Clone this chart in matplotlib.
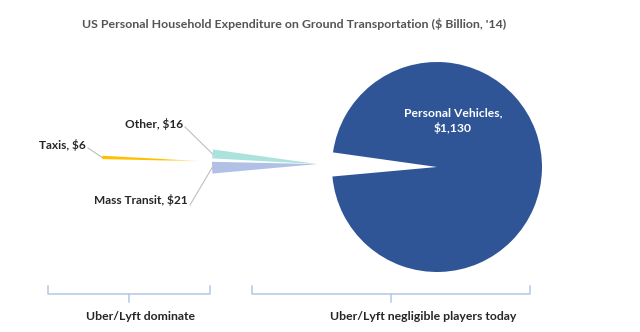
import numpy as np
import matplotlib.pyplot as plt
import matplotlib.colors as mcolors

# Data
labels = ["Personal Vehicles", "Other", "Taxis", "Mass Transit"]
values = [1130, 16, 6, 21]
colors = ["#2F5597", "#ABE3DC", "#FFC000", "#B1C1E6"]
bracket_labels = ["Uber/Lyft dominate", "Uber/Lyft negligible players today"]
title = "US Personal Household Expenditure on Ground Transportation ($ Billion, '14)"

plt.rcParams['font.family'] = ['Lato', 'DejaVu Sans']

W, H = 640, 332
fig = plt.figure(figsize=(6.4, 3.32), dpi=100)
ax = fig.add_axes([0, 0, 1, 1])

def py(y):
    # pixel row -> data y (y axis points up)
    return H - y

total = sum(values)
small = total - values[0]
gap_dir = 178.6
start = gap_dir + small / total * 180
cx, cy, r = 437, py(167), 105

wedges, _ = ax.pie(values, colors=colors, startangle=start, center=(cx, cy),
                   radius=r, wedgeprops=dict(linewidth=0))

# pull the small slices out to the left, all along the gap direction
shift = {1: 120, 2: 230, 3: 120}
u = np.array([np.cos(np.radians(gap_dir)), np.sin(np.radians(gap_dir))])
for i, d in shift.items():
    wedges[i].set_center((cx + d * u[0], cy + d * u[1]))

# taxis slice fades out toward its tip
wt = wedges[2]
wt.set_facecolor("none")
n = 300
xs = np.linspace(0, 1, n)
grad = np.ones((2, n, 4))
grad[..., :3] = mcolors.to_rgb(colors[2])
grad[..., 3] = np.clip((1 - xs) / 0.42, 0, 1)
im = ax.imshow(grad, extent=[wt.center[0] - r - 2, wt.center[0], wt.center[1] - 12, wt.center[1] + 12],
               aspect="auto", interpolation="bilinear", zorder=3)
im.set_clip_path(wt)

# labels with leader lines
label_pos = {1: (183, 124), 2: (86, 145), 3: (188, 200)}
line_start = {1: (185, 127), 2: (88, 148), 3: (190, 205)}
for i in (1, 2, 3):
    w = wedges[i]
    mid = np.radians((w.theta1 + w.theta2) / 2)
    ex = w.center[0] + r * np.cos(mid)
    ey = w.center[1] + r * np.sin(mid)
    sx, sy = line_start[i]
    ax.plot([sx, ex], [py(sy), ey], color="#BFBFBF", lw=0.8, zorder=2)
    tx, ty = label_pos[i]
    ax.text(tx, py(ty), f"{labels[i]}, ${values[i]:,}", ha="right", va="center",
            fontsize=8.6, fontweight="bold", color="#262626", zorder=4)

ax.text(453, py(121), f"{labels[0]},\n${values[0]:,}", ha="center", va="center",
        fontsize=8.7, fontweight="bold", color="white", linespacing=1.35, zorder=4)

# brackets under the chart
bcol = "#B4C7E7"
for (x0, x1, xm), txt, lx in zip([(48, 210, 129), (252, 530, 391)], bracket_labels, [141, 423]):
    ax.plot([x0, x0, x1, x1], [py(286), py(294), py(294), py(286)], color=bcol, lw=1.1,
            solid_joinstyle="round")
    ax.plot([xm, xm], [py(294), py(302)], color=bcol, lw=1.1)
    ax.text(lx, py(316), txt, ha="center", va="center", fontsize=8.8,
            fontweight="bold", color="#262626")

ax.text(294, py(24), title, ha="center", va="center", fontsize=8.9,
        fontweight="bold", color="#545454")

ax.set_xlim(0, W)
ax.set_ylim(0, H)
ax.set_aspect("equal")
ax.axis("off")

fig.savefig("out.png", dpi=100, facecolor="white")
